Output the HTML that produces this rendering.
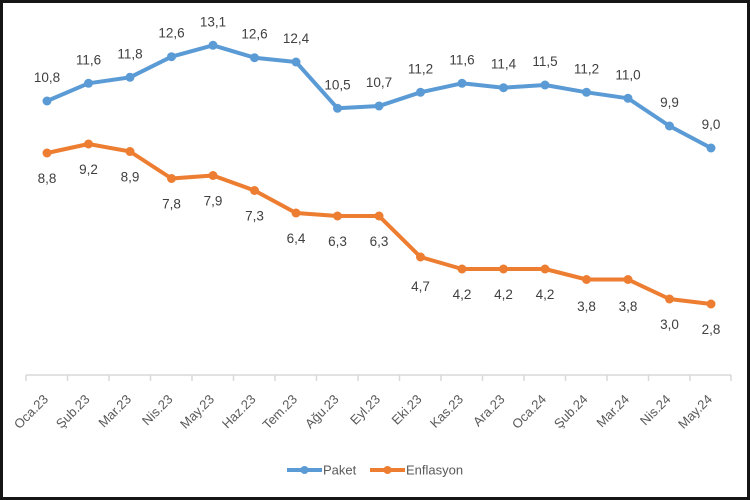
<!DOCTYPE html>
<html><head><meta charset="utf-8"><style>
html,body{margin:0;padding:0;background:#fff;}
svg{display:block;}
.dl{font-family:"Liberation Sans",sans-serif;font-size:13.5px;fill:#404040;text-anchor:middle;}
.ax{font-family:"Liberation Sans",sans-serif;font-size:13px;fill:#595959;text-anchor:end;}
.lg{font-family:"Liberation Sans",sans-serif;font-size:13px;fill:#595959;}
</style></head><body>
<svg width="750" height="500" viewBox="0 0 750 500" xmlns="http://www.w3.org/2000/svg">
<rect x="0" y="0" width="750" height="500" fill="#fff"/>
<rect x="1.5" y="1.5" width="747" height="497" fill="none" stroke="#151515" stroke-width="3"/>
<!-- axis -->
<line x1="26" y1="375" x2="731" y2="375" stroke="#d9d9d9" stroke-width="1.5"/>
<g stroke="#d9d9d9" stroke-width="1.5">
<line x1="26" y1="375" x2="26" y2="381"/><line x1="67.5" y1="375" x2="67.5" y2="381"/><line x1="109" y1="375" x2="109" y2="381"/><line x1="150.5" y1="375" x2="150.5" y2="381"/><line x1="192" y1="375" x2="192" y2="381"/><line x1="233.5" y1="375" x2="233.5" y2="381"/><line x1="275" y1="375" x2="275" y2="381"/><line x1="316.5" y1="375" x2="316.5" y2="381"/><line x1="358" y1="375" x2="358" y2="381"/><line x1="399.5" y1="375" x2="399.5" y2="381"/><line x1="441" y1="375" x2="441" y2="381"/><line x1="482.5" y1="375" x2="482.5" y2="381"/><line x1="524" y1="375" x2="524" y2="381"/><line x1="565.5" y1="375" x2="565.5" y2="381"/><line x1="607" y1="375" x2="607" y2="381"/><line x1="648.5" y1="375" x2="648.5" y2="381"/><line x1="690" y1="375" x2="690" y2="381"/><line x1="731" y1="375" x2="731" y2="381"/>
</g>
<!-- x labels -->
<g class="ax">
<text transform="translate(49,400) rotate(-45)">Oca.23</text>
<text transform="translate(90.5,400) rotate(-45)">Şub.23</text>
<text transform="translate(132,400) rotate(-45)">Mar.23</text>
<text transform="translate(173.5,400) rotate(-45)">Nis.23</text>
<text transform="translate(215,400) rotate(-45)">May.23</text>
<text transform="translate(256.5,400) rotate(-45)">Haz.23</text>
<text transform="translate(298,400) rotate(-45)">Tem.23</text>
<text transform="translate(339.5,400) rotate(-45)">Ağu.23</text>
<text transform="translate(381,400) rotate(-45)">Eyl.23</text>
<text transform="translate(422.5,400) rotate(-45)">Eki.23</text>
<text transform="translate(464,400) rotate(-45)">Kas.23</text>
<text transform="translate(505.5,400) rotate(-45)">Ara.23</text>
<text transform="translate(547,400) rotate(-45)">Oca.24</text>
<text transform="translate(588.5,400) rotate(-45)">Şub.24</text>
<text transform="translate(630,400) rotate(-45)">Mar.24</text>
<text transform="translate(671.5,400) rotate(-45)">Nis.24</text>
<text transform="translate(713,400) rotate(-45)">May.24</text>
</g>
<!-- Paket -->
<polyline fill="none" stroke="#5B9BD5" stroke-width="4" stroke-linejoin="round" points="47,101 88.5,83.3 130,77.3 171.5,56.7 213,45.3 254.5,57.7 296,62 337.5,108.3 379,106 420.5,92.3 462,83.3 503.5,87.7 545,85 586.5,92.3 628,98.3 669.5,126 711,148"/>
<g fill="#5B9BD5">
<circle cx="47" cy="101" r="4.5"/><circle cx="88.5" cy="83.3" r="4.5"/><circle cx="130" cy="77.3" r="4.5"/><circle cx="171.5" cy="56.7" r="4.5"/><circle cx="213" cy="45.3" r="4.5"/><circle cx="254.5" cy="57.7" r="4.5"/><circle cx="296" cy="62" r="4.5"/><circle cx="337.5" cy="108.3" r="4.5"/><circle cx="379" cy="106" r="4.5"/><circle cx="420.5" cy="92.3" r="4.5"/><circle cx="462" cy="83.3" r="4.5"/><circle cx="503.5" cy="87.7" r="4.5"/><circle cx="545" cy="85" r="4.5"/><circle cx="586.5" cy="92.3" r="4.5"/><circle cx="628" cy="98.3" r="4.5"/><circle cx="669.5" cy="126" r="4.5"/><circle cx="711" cy="148" r="4.5"/>
</g>
<g class="dl">
<text x="47" y="82">10,8</text><text x="88.5" y="64.3">11,6</text><text x="130" y="58.3">11,8</text><text x="171.5" y="37.7">12,6</text><text x="213" y="26.3">13,1</text><text x="254.5" y="38.7">12,6</text><text x="296" y="43">12,4</text><text x="337.5" y="89.3">10,5</text><text x="379" y="87">10,7</text><text x="420.5" y="73.3">11,2</text><text x="462" y="64.3">11,6</text><text x="503.5" y="68.7">11,4</text><text x="545" y="66">11,5</text><text x="586.5" y="73.3">11,2</text><text x="628" y="79.3">11,0</text><text x="669.5" y="107">9,9</text><text x="711" y="129">9,0</text>
</g>
<!-- Enflasyon -->
<polyline fill="none" stroke="#ED7D31" stroke-width="4" stroke-linejoin="round" points="47,153 88.5,144 130,151.5 171.5,178.5 213,175.5 254.5,190.5 296,213 337.5,216 379,216 420.5,257 462,269 503.5,269 545,269 586.5,279.5 628,279.5 669.5,299 711,304"/>
<g fill="#ED7D31">
<circle cx="47" cy="153" r="4.5"/><circle cx="88.5" cy="144" r="4.5"/><circle cx="130" cy="151.5" r="4.5"/><circle cx="171.5" cy="178.5" r="4.5"/><circle cx="213" cy="175.5" r="4.5"/><circle cx="254.5" cy="190.5" r="4.5"/><circle cx="296" cy="213" r="4.5"/><circle cx="337.5" cy="216" r="4.5"/><circle cx="379" cy="216" r="4.5"/><circle cx="420.5" cy="257" r="4.5"/><circle cx="462" cy="269" r="4.5"/><circle cx="503.5" cy="269" r="4.5"/><circle cx="545" cy="269" r="4.5"/><circle cx="586.5" cy="279.5" r="4.5"/><circle cx="628" cy="279.5" r="4.5"/><circle cx="669.5" cy="299" r="4.5"/><circle cx="711" cy="304" r="4.5"/>
</g>
<g class="dl">
<text x="47" y="183">8,8</text><text x="88.5" y="174">9,2</text><text x="130" y="181.5">8,9</text><text x="171.5" y="208.5">7,8</text><text x="213" y="205.5">7,9</text><text x="254.5" y="220.5">7,3</text><text x="296" y="243">6,4</text><text x="337.5" y="246">6,3</text><text x="379" y="246">6,3</text><text x="420.5" y="291">4,7</text><text x="462" y="299">4,2</text><text x="503.5" y="299">4,2</text><text x="545" y="299">4,2</text><text x="586.5" y="311">3,8</text><text x="628" y="311">3,8</text><text x="669.5" y="329">3,0</text><text x="711" y="334">2,8</text>
</g>
<!-- legend -->
<line x1="287" y1="470" x2="322" y2="470" stroke="#5B9BD5" stroke-width="4"/>
<circle cx="304.5" cy="470" r="4" fill="#5B9BD5"/>
<text class="lg" x="323" y="474.5">Paket</text>
<line x1="370" y1="470" x2="405" y2="470" stroke="#ED7D31" stroke-width="4"/>
<circle cx="387.5" cy="470" r="4" fill="#ED7D31"/>
<text class="lg" x="406" y="474.5">Enflasyon</text>
</svg>
</body></html>
